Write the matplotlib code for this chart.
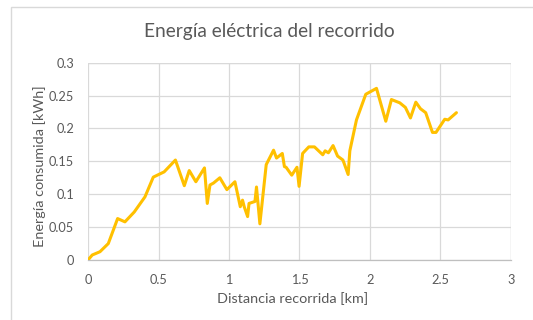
import matplotlib
matplotlib.use("Agg")
import matplotlib.pyplot as plt
from matplotlib.ticker import MultipleLocator, FuncFormatter
from matplotlib.patches import Rectangle

# Distance travelled [km] and energy consumed [kWh]
distancia_km = [0, 0.03, 0.085, 0.144, 0.21, 0.262, 0.328, 0.404, 0.463, 0.54,
                0.62, 0.683, 0.718, 0.765, 0.826, 0.846, 0.865, 0.89, 0.935, 0.985,
                1.042, 1.08, 1.096, 1.108, 1.132, 1.142, 1.184, 1.195, 1.219, 1.264,
                1.316, 1.337, 1.378, 1.393, 1.405, 1.445, 1.482, 1.497, 1.522, 1.566,
                1.606, 1.665, 1.682, 1.705, 1.738, 1.77, 1.808, 1.845, 1.857, 1.904,
                1.97, 2.046, 2.112, 2.152, 2.211, 2.251, 2.287, 2.325, 2.358, 2.395,
                2.443, 2.468, 2.53, 2.554, 2.613]
energia_kwh = [0, 0.0076, 0.0126, 0.025, 0.063, 0.058, 0.073, 0.096, 0.126, 0.134,
               0.152, 0.113, 0.136, 0.119, 0.14, 0.086, 0.114, 0.117, 0.125, 0.107,
               0.119, 0.081, 0.091, 0.081, 0.066, 0.086, 0.089, 0.111, 0.055, 0.145,
               0.167, 0.155, 0.162, 0.142, 0.141, 0.129, 0.141, 0.112, 0.162, 0.172,
               0.172, 0.160, 0.166, 0.163, 0.174, 0.158, 0.152, 0.130, 0.166, 0.213,
               0.252, 0.261, 0.211, 0.244, 0.239, 0.232, 0.216, 0.240, 0.230, 0.224,
               0.194, 0.194, 0.214, 0.213, 0.224]

titulo = "Energía eléctrica del recorrido"
etiqueta_x = "Distancia recorrida [km]"
etiqueta_y = "Energía consumida [kWh]"

TEXT = "#595959"
GRID = "#D9D9D9"
LINE = "#FFC000"

plt.rcParams["font.family"] = ["Lato", "DejaVu Sans"]

W, H = 533, 320
fig = plt.figure(figsize=(W / 100, H / 100), dpi=100)

# chart frame
fig.patches.append(Rectangle((11 / W, -0.1), 1.2, 1 - 7 / H + 0.1,
                             transform=fig.transFigure, fill=False,
                             edgecolor=GRID, linewidth=1.0))

ax = fig.add_axes([88 / W, 1 - 260 / H, (511 - 88) / W, (260 - 62.7) / H])

ax.plot(distancia_km, energia_kwh, color=LINE, linewidth=2.2,
        solid_joinstyle="round", solid_capstyle="round", zorder=3)

ax.set_xlim(0, 3)
ax.set_ylim(0, 0.3)
ax.xaxis.set_major_locator(MultipleLocator(0.5))
ax.yaxis.set_major_locator(MultipleLocator(0.05))
fmt = FuncFormatter(lambda v, p: f"{v:.2f}".rstrip("0").rstrip("."))
ax.xaxis.set_major_formatter(fmt)
ax.yaxis.set_major_formatter(fmt)

ax.grid(True, color=GRID, linewidth=0.9)
ax.set_axisbelow(True)
for side in ("top", "right", "left"):
    ax.spines[side].set_visible(False)
ax.spines["bottom"].set_color("#BFBFBF")
ax.spines["bottom"].set_linewidth(0.9)
ax.tick_params(length=0, colors=TEXT, labelsize=9.2)
ax.tick_params(axis="x", pad=10)
ax.tick_params(axis="y", pad=10)

# gridlines at the upper and right limits
ax.axvline(3, color=GRID, linewidth=0.9, zorder=0)
ax.axhline(0.3, color=GRID, linewidth=0.9, zorder=0)

fig.text(293 / W, 1 - 299 / H, etiqueta_x, ha="center", va="center",
         color=TEXT, fontsize=10.4)
fig.text(40 / W, 1 - 166 / H, etiqueta_y, ha="center", va="center",
         rotation=90, color=TEXT, fontsize=10.4)
fig.text(269 / W, 1 - 32 / H, titulo, ha="center", va="center",
         color=TEXT, fontsize=13.8)

fig.savefig("out.png", dpi=100)
